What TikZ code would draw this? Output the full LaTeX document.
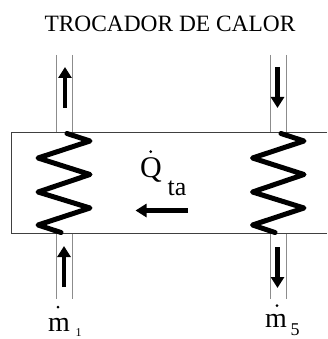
\documentclass[tikz,border=0pt]{standalone}
\usepackage{fontspec}
\setmainfont{Liberation Serif}
\usetikzlibrary{arrows.meta}
\tikzset{
  tube/.style={draw=black!45,line width=0.8pt},
  box/.style={draw=black!75,line width=0.8pt},
  coil/.style={line width=5pt,line join=round,line cap=round},
  flow/.style={line width=4.5pt,-{Triangle[length=11pt,width=13pt]}},
  lbl/.style={inner sep=0pt,anchor=base},
  dotmark/.style={circle,fill=black,inner sep=0pt,minimum size=3pt}
}
\begin{document}
\begin{tikzpicture}[x=1pt,y=-1pt]
\useasboundingbox (0,0) rectangle (327,339);
\node[lbl] (title) at (170,31.5) {\fontsize{23.4}{26}\selectfont TROCADOR DE CALOR};
% tube end points
\coordinate (lta) at (56,55); \coordinate (ltb) at (56,132.5);
\coordinate (lua) at (72,55); \coordinate (lub) at (72,132.5);
\coordinate (rta) at (270,55); \coordinate (rtb) at (270,132.5);
\coordinate (rua) at (286,55); \coordinate (rub) at (286,132.5);
\coordinate (lba) at (56,233); \coordinate (lbb) at (56,299);
\coordinate (lca) at (72,233); \coordinate (lcb) at (72,299);
\coordinate (rba) at (270,233); \coordinate (rbb) at (270,299);
\coordinate (rca) at (286,233); \coordinate (rcb) at (286,299);
\draw[tube] (lta) -- (ltb);
\draw[tube] (lua) -- (lub);
\draw[tube] (rta) -- (rtb);
\draw[tube] (rua) -- (rub);
\draw[tube] (lba) -- (lbb);
\draw[tube] (lca) -- (lcb);
\draw[tube] (rba) -- (rbb);
\draw[tube] (rca) -- (rcb);
% box, open to the page edge on the right
\coordinate (bne) at (327,132.5); \coordinate (bnw) at (11.5,132.5);
\coordinate (bsw) at (11.5,233); \coordinate (bse) at (327,233);
\draw[box] (bne) -- (bnw) -- (bsw) -- (bse);
% coils
\draw[coil] (67,133.5) -- (90,141) -- (38,158) -- (90,174.5) -- (38,192) -- (90,208) -- (38,225) -- (61,232.5);
\draw[coil] (281,133.5) -- (304,141) -- (252.5,158) -- (304,174.5) -- (252.5,192) -- (304,208) -- (252.5,225) -- (275,232.5);
% flow arrows
\coordinate (a1s) at (65,108); \coordinate (a1e) at (65,67);
\coordinate (a2s) at (64,287); \coordinate (a2e) at (64,246);
\coordinate (a3s) at (277.5,67); \coordinate (a3e) at (277.5,108);
\coordinate (a4s) at (277.5,247); \coordinate (a4e) at (277.5,288);
\coordinate (a5s) at (188,210.5); \coordinate (a5e) at (135.5,210.5);
\draw[flow] (a1s) -- (a1e);
\draw[flow] (a2s) -- (a2e);
\draw[flow] (a3s) -- (a3e);
\draw[flow] (a4s) -- (a4e);
\draw[flow] (a5s) -- (a5e);
% labels
\node[lbl] (q) at (151,177.5) {\fontsize{30}{32}\selectfont Q};
\node[dotmark] (qd) at (150.7,151.7) {};
\node[lbl] (ta) at (177,195) {\fontsize{26}{28}\selectfont ta};
\node[lbl] (m1) at (59,331) {\fontsize{28}{30}\selectfont m};
\node[dotmark] (m1d) at (58,307) {};
\node[lbl] (s1) at (78.5,336) {\fontsize{12}{14}\selectfont 1};
\node[lbl] (m5) at (276,327) {\fontsize{28}{30}\selectfont m};
\node[dotmark] (m5d) at (277,305.7) {};
\node[lbl] (s5) at (295,335) {\fontsize{18}{20}\selectfont 5};
\end{tikzpicture}
\end{document}
